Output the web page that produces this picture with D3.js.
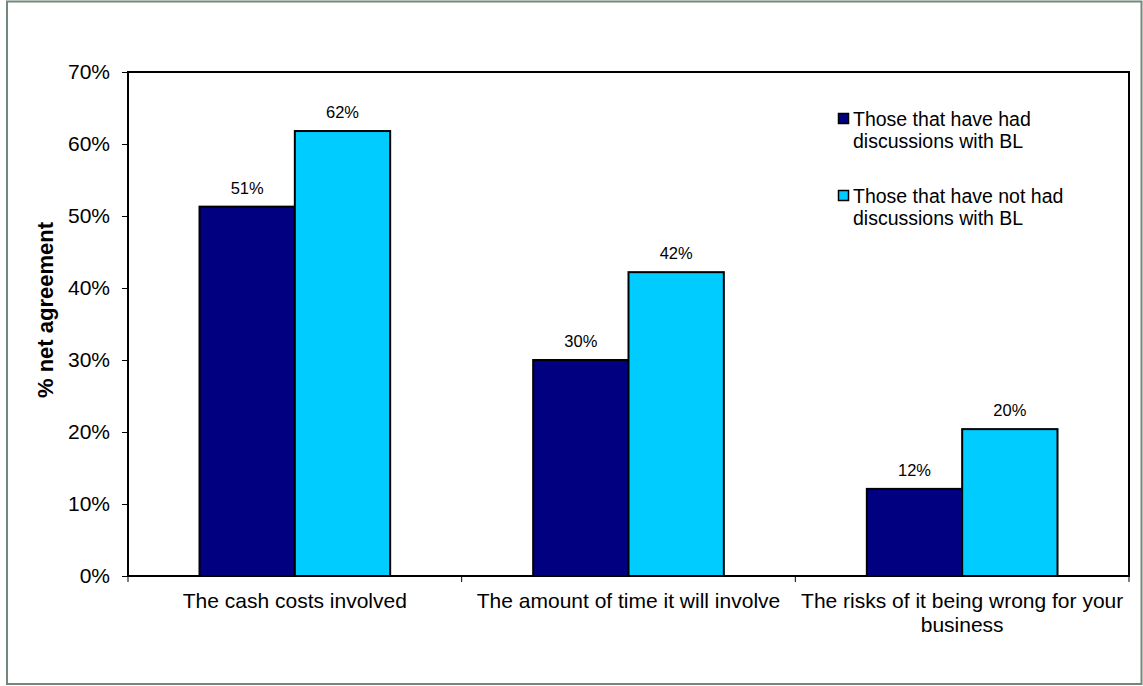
<!DOCTYPE html>
<html><head><meta charset="utf-8">
<script src="https://d3js.org/d3.v7.min.js"></script>
<style>body{margin:0;background:#fff}svg{display:block}text{font-family:"Liberation Sans",Arial,sans-serif;fill:#000}</style>
</head><body><svg id="c" width="1143" height="686"></svg>
<script>
const categories = [["The cash costs involved"],["The amount of time it will involve"],["The risks of it being wrong for your","business"]];
const seriesNames = [["Those that have had","discussions with BL"],["Those that have not had","discussions with BL"]];
const seriesHad = [51.3, 30.0, 12.1];
const seriesNotHad = [61.8, 42.2, 20.4];
const labelsHad = ["51%","30%","12%"];
const labelsNotHad = ["62%","42%","20%"];
const yTicks = [0,10,20,30,40,50,60,70];
const colors = ["#000080","#00CCFF"];

const svg = d3.select("#c");
svg.append("rect").attr("x",7).attr("y",1.5).attr("width",1134.5).attr("height",682.5)
  .attr("fill","#fff").attr("stroke","#6f8a7a").attr("stroke-width",2);

const L=128,R=1129,T=72,B=576;
const x = d3.scaleBand().domain(d3.range(3)).range([L,R]).paddingInner(0).paddingOuter(0);
const y = d3.scaleLinear().domain([0,70]).range([B,T]);
const bw = x.bandwidth()/3.5;

svg.append("rect").attr("x",L).attr("y",T).attr("width",R-L).attr("height",B-T).attr("fill","none").attr("stroke","#000").attr("stroke-width",2);

const series=[seriesHad,seriesNotHad], labs=[labelsHad,labelsNotHad];
series.forEach((s,si)=>{
  svg.selectAll(null).data(s).enter().append("rect")
    .attr("x",(d,i)=>x(i)+0.75*bw+si*bw).attr("y",d=>y(d))
    .attr("width",bw).attr("height",d=>B-y(d))
    .attr("fill",colors[si]).attr("stroke","#000").attr("stroke-width",2);
  svg.selectAll(null).data(s).enter().append("text")
    .attr("x",(d,i)=>x(i)+0.75*bw+si*bw+bw/2).attr("y",d=>y(d)-13)
    .attr("text-anchor","middle").style("font-size","16.5px").text((d,i)=>labs[si][i]);
});

const ya = svg.append("g").attr("transform",`translate(${L},0)`).call(d3.axisLeft(y).tickValues(yTicks).tickSize(6).tickPadding(12).tickFormat(d=>d+"%"));
ya.select(".domain").remove();
ya.selectAll("line").attr("stroke","#000").attr("stroke-width",1);
ya.selectAll("text").style("font-size","21px").style("font-family","'Liberation Sans',Arial,sans-serif").attr("fill","#000");

const bounds=[0,1,2,3].map(i=>L+i*x.bandwidth());
svg.selectAll(null).data(bounds).enter().append("line")
  .attr("x1",d=>d).attr("x2",d=>d).attr("y1",B).attr("y2",B+6).attr("stroke","#000").attr("stroke-width",1);
categories.forEach((c,i)=>{
  const t=svg.append("text").attr("text-anchor","middle").style("font-size","21px")
    .attr("x",x(i)+x.bandwidth()/2).attr("y",608);
  c.forEach((ln,j)=>t.append("tspan").attr("x",x(i)+x.bandwidth()/2).attr("dy",j?24:0).text(ln));
});

svg.append("text").attr("transform","translate(53,310) rotate(-90)").attr("text-anchor","middle")
  .style("font-size","22px").style("font-weight","bold").text("% net agreement");

seriesNames.forEach((n,i)=>{
  const yy=126+i*77;
  svg.append("rect").attr("x",838.5).attr("y",yy-12.5).attr("width",10).attr("height",10)
    .attr("fill",colors[i]).attr("stroke","#000").attr("stroke-width",1.5);
  const t=svg.append("text").style("font-size","19.5px").attr("x",853).attr("y",yy);
  n.forEach((ln,j)=>t.append("tspan").attr("x",853).attr("dy",j?22:0).text(ln));
});
</script></body></html>
